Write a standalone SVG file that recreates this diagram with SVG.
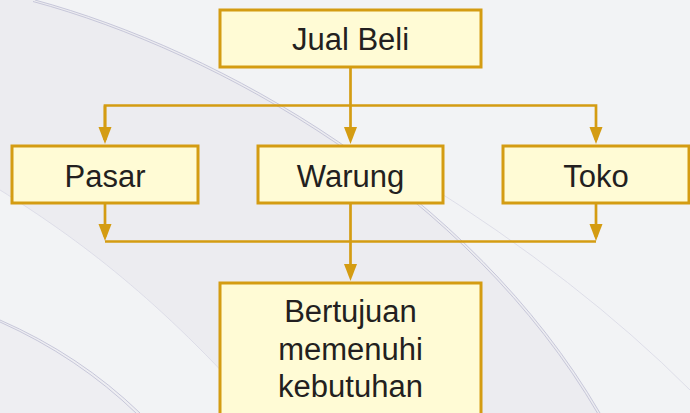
<svg xmlns="http://www.w3.org/2000/svg" width="690" height="413" viewBox="0 0 690 413">
  <style>
    .box { fill: #FFFBD5; stroke: #D49C12; stroke-width: 3; }
    .lbl { font-family: "Liberation Sans", Arial, sans-serif; font-size: 31px; fill: #231F20; text-anchor: middle; }
    .con { fill: none; stroke: #D49C12; stroke-width: 2.7; }
    .deco { fill: none; stroke: #BDBDD3; stroke-width: 0.8; }
    .deco2 { fill: none; stroke: #D8D8E4; stroke-width: 0.8; }
  </style>
  <defs>
    <marker id="arr" viewBox="0 -7 17 14" markerWidth="17" markerHeight="14" refX="13" refY="0" orient="auto" markerUnits="userSpaceOnUse">
      <path d="M0,-6.5 L17,0 L0,6.5 z" fill="#D49C12"/>
    </marker>
  </defs>

  <g id="background">
    <rect x="0" y="0" width="690" height="413" fill="#F2F3F5"/>
    <path d="M35,0 C220,50 470,190 600,413 L260,413 C160,300 80,240 0,190 L0,0 Z" fill="#ECECF0"/>
    <path d="M0,320 Q80,355 140,413 L0,413 Z" fill="#EEEEF2"/>
    <path class="deco" d="M35,0 C220,50 470,190 600,413"/>
    <path class="deco" d="M33,1.5 C218,51.5 468,191.5 598,414"/>
    <path class="deco2" d="M420,180 Q580,280 690,390"/>
    <path class="deco2" d="M0,190 C80,240 160,300 260,413"/>
    <path class="deco" d="M0,320 Q80,355 140,413"/>
    <path class="deco" d="M0,322 Q78,357 137,414"/>
  </g>

  <g id="connectors">
    <path class="con" d="M350.5,68 V140" marker-end="url(#arr)"/>
    <path class="con" d="M105,140 V105.5 H596 V140" marker-end="url(#arr)"/>
    <path class="con" d="M105,105.5 V140" marker-end="url(#arr)"/>
    <path class="con" d="M105,204 V237" marker-end="url(#arr)"/>
    <path class="con" d="M596,204 V237" marker-end="url(#arr)"/>
    <path class="con" d="M105,241.5 H596"/>
    <path class="con" d="M350.5,204 V277" marker-end="url(#arr)"/>
  </g>

  <g id="node-jual-beli">
    <rect class="box" x="220" y="10" width="261" height="57"/>
    <text class="lbl" x="350.5" y="50">Jual Beli</text>
  </g>
  <g id="node-pasar">
    <rect class="box" x="12" y="146" width="186" height="57"/>
    <text class="lbl" x="105" y="187">Pasar</text>
  </g>
  <g id="node-warung">
    <rect class="box" x="258" y="146" width="185" height="57"/>
    <text class="lbl" x="350.5" y="187">Warung</text>
  </g>
  <g id="node-toko">
    <rect class="box" x="503" y="146" width="186" height="57"/>
    <text class="lbl" x="596" y="187">Toko</text>
  </g>
  <g id="node-bertujuan">
    <rect class="box" x="220" y="283" width="261" height="140"/>
    <text class="lbl" x="350.5" y="322">Bertujuan</text>
    <text class="lbl" x="350.5" y="360">memenuhi</text>
    <text class="lbl" x="350.5" y="397">kebutuhan</text>
  </g>
</svg>
